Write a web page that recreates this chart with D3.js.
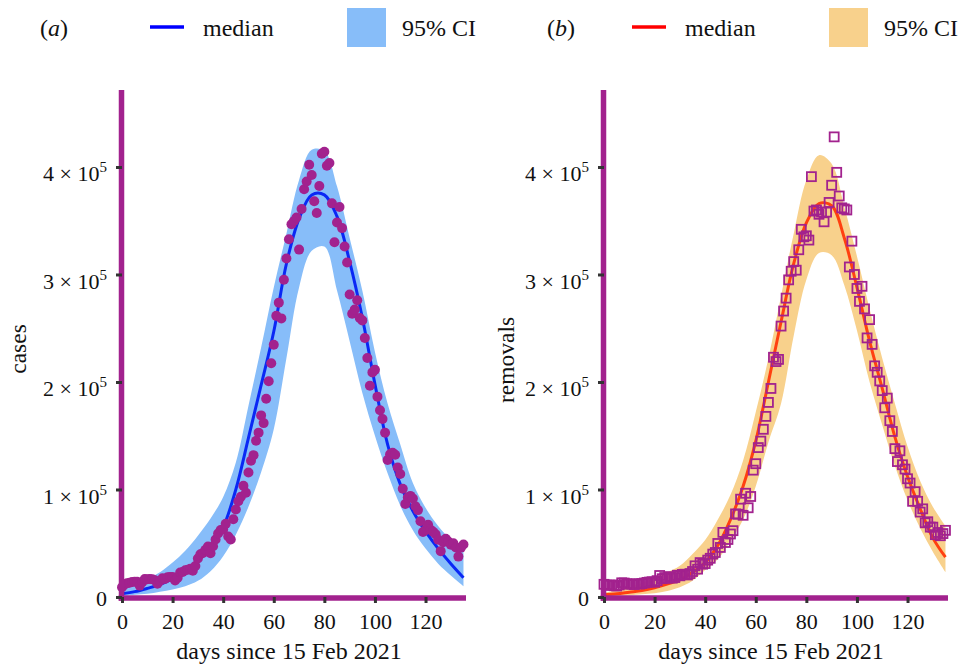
<!DOCTYPE html>
<html>
<head>
<meta charset="utf-8">
<script src="https://cdn.jsdelivr.net/npm/d3@7"></script>
<style>
  body { margin: 0; background: #fff; }
  text { font-family: "Liberation Serif", "DejaVu Serif", serif; fill: #111; }
</style>
</head>
<body>
<div id="chart"></div>
<script>
// days since 15 Feb 2021 (one point per day)
const days = d3.range(0, 136);

// daily cases (panel a)
const cases = [
  9121, 11610, 12881, 13193, 13993, 14264, 14199, 10584, 13742, 16738,
  16577, 16752, 16488, 15510, 12286, 14989, 17407, 16838, 18327, 18711,
  18599, 15388, 17921, 22854, 23285, 24882, 25320, 26291, 24492, 28903,
  35871, 39726, 40953, 43846, 46951, 40715, 47262, 53476, 59118, 62258,
  62714, 68020, 56211, 53480, 72330, 81466, 89129, 93249, 103558, 96982,
  115736, 126789, 131968, 145384, 152879, 168912, 161736, 184372, 200739, 217353,
  234692, 261500, 273810, 259170, 295041, 314835, 332730, 346786, 349691, 352991,
  323144, 360960, 379257, 386452, 401993, 392488, 368147, 357229, 382315, 412262,
  414188, 401078, 403738, 366161, 329942, 348421, 362727, 343144, 326098, 311170,
  281386, 263533, 267334, 276110, 259551, 257299, 240842, 222315, 196427, 208921,
  211298, 186364, 173790, 165553, 152734, 127510, 132788, 134154, 132364, 120529,
  114460, 100636, 86498, 92596, 94052, 91702, 84332, 80834, 70421, 60471,
  62224, 67208, 62480, 60753, 58419, 53256, 42640, 50848, 54069, 51667,
  48698, 50040, 46148, 37566, 45951, 48786
];

// daily removals, thousands (panel b)
const removals = [
  11.8, 11.0, 11.3, 10.9, 10.5, 10.2, 11.2, 13.2, 13.0, 12.4,
  11.9, 12.0, 11.6, 12.3, 12.0, 12.5, 13.0, 13.6, 13.9, 14.2,
  13.8, 15.2, 20.0, 17.0, 18.1, 17.5, 19.0, 17.5, 18.1, 20.2,
  19.7, 21.0, 21.2, 20.5, 21.8, 23.7, 29.0, 25.9, 32.0, 30.5,
  31.1, 34.3, 36.0, 39.9, 41.4, 49.8, 46.1, 60.1, 50.7, 53.5,
  58.6, 61.7, 77.3, 77.0, 91.0, 76.0, 96.5, 83.0, 93.5, 118,
  124, 139, 145, 156, 168, 181, 194, 223, 219, 221,
  252, 266, 278, 295, 303, 312, 304, 323, 342, 335,
  336, 332, 391, 359, 360, 356, 358, 349, 358, 367,
  383, 428, 395, 373, 362, 361, 360, 307, 331, 300,
  287, 275, 289, 268, 241, 258, 235, 215, 209, 201,
  192, 176, 185, 164, 154, 138, 126, 136, 123, 119,
  110, 106, 89, 98, 89, 79, 82, 69, 70, 65,
  65, 58, 60, 57, 59, 62
];

// fitted model: median and 95% CI, thousands, at these days
const fitDays = [0, 5, 10, 15, 20, 25, 30, 35, 40, 45, 50, 55, 60, 65, 70, 75, 80, 85, 90, 95, 100, 105, 110, 115, 120, 125, 130, 135];
const caseMedian = [3, 5, 8, 11.5, 17, 24, 34, 47, 65, 100, 148, 197, 247, 310, 352, 374, 374, 354, 312, 260, 198, 142, 105, 80, 61, 45, 31, 18];
const caseUpper = [8, 12, 17, 23, 32, 43, 57, 73, 93, 125, 178, 232, 288, 338, 388, 416, 415, 382, 334, 285, 228, 180, 142, 106, 83, 66, 53, 43];
const caseLower = [1, 2, 3, 5, 7, 10, 15, 24, 38, 58, 84, 116, 156, 222, 288, 322, 326, 285, 238, 190, 150, 115, 85, 62, 45, 31, 20, 10];
const removalMedian = [2, 3, 4.5, 6, 8.5, 12, 16, 23, 32, 48, 72, 103, 145, 200, 256, 310, 348, 366, 364, 334, 288, 238, 194, 149, 112, 82, 55, 37];
const removalUpper = [4, 6, 9, 13, 18, 23, 29, 40, 53, 72, 95, 127, 172, 222, 280, 338, 388, 411, 403, 363, 317, 268, 222, 180, 140, 108, 84, 66];
const removalLower = [0.5, 1, 1.5, 2.5, 3.5, 5.6, 9, 15, 25, 35, 52, 72, 103, 144, 180, 243, 295, 320, 318, 290, 248, 200, 160, 122, 90, 64, 42, 23];

const xTicks = [0, 20, 40, 60, 80, 100, 120];
const yTicks = [0, 1e5, 2e5, 3e5, 4e5];

const purple = "#a2228e";

const svg = d3.select("#chart").append("svg")
    .attr("width", 959)
    .attr("height", 667);

function drawPanel(cfg) {
    const x = d3.scaleLinear().domain([0, 136]).range([cfg.left, cfg.left + 344]);
    const y = d3.scaleLinear().domain([0, 471600]).range([597, 90]);
    const g = svg.append("g");

    const fit = fitDays.map((d, i) => ({
        day: d, med: cfg.median[i] * 1000, lo: cfg.lower[i] * 1000, hi: cfg.upper[i] * 1000
    }));

    // 95% CI band
    g.append("path")
        .datum(fit)
        .attr("fill", cfg.bandColor)
        .attr("d", d3.area().curve(d3.curveCatmullRom)
            .x(d => x(d.day)).y0(d => y(d.lo)).y1(d => y(d.hi)));

    // median line
    g.append("path")
        .datum(fit)
        .attr("fill", "none")
        .attr("stroke", cfg.lineColor)
        .attr("stroke-width", 3)
        .attr("d", d3.line().curve(d3.curveCatmullRom)
            .x(d => x(d.day)).y(d => y(d.med)));

    // observed data
    if (cfg.marker === "circle") {
        g.selectAll("circle.obs")
            .data(cfg.values)
            .enter().append("circle")
            .attr("class", "obs")
            .attr("cx", (d, i) => x(days[i]))
            .attr("cy", d => y(d * cfg.scale))
            .attr("r", 5)
            .attr("fill", purple);
    } else {
        g.selectAll("rect.obs")
            .data(cfg.values)
            .enter().append("rect")
            .attr("class", "obs")
            .attr("x", (d, i) => x(days[i]) - 4.5)
            .attr("y", d => y(d * cfg.scale) - 4.5)
            .attr("width", 9)
            .attr("height", 9)
            .attr("fill", "none")
            .attr("stroke", purple)
            .attr("stroke-width", 1.8);
    }

    // thick purple axis lines
    g.append("line")
        .attr("x1", x(0) - 0.5).attr("x2", x(0) - 0.5)
        .attr("y1", 90).attr("y2", y(0) + 3.8)
        .attr("stroke", purple).attr("stroke-width", 5.5);
    g.append("line")
        .attr("x1", x(0) - 3.3).attr("x2", x(136))
        .attr("y1", y(0) + 1).attr("y2", y(0) + 1)
        .attr("stroke", purple).attr("stroke-width", 5.5);

    // x axis
    const xa = g.append("g")
        .attr("transform", `translate(0,${y(0)})`)
        .call(d3.axisBottom(x).tickValues(xTicks).tickSize(6).tickSizeOuter(0).tickPadding(10));
    xa.select(".domain").remove();
    xa.selectAll(".tick line").attr("stroke", "#333").attr("stroke-width", 3);
    xa.selectAll(".tick text").attr("font-size", 22).attr("font-family", "Liberation Serif").attr("fill", "#111");

    // y axis with 4 × 10^5 style labels
    const ya = g.append("g")
        .attr("transform", `translate(${x(0)},0)`)
        .call(d3.axisLeft(y).tickValues(yTicks).tickSize(6).tickSizeOuter(0).tickPadding(9).tickFormat(""));
    ya.select(".domain").remove();
    ya.selectAll(".tick line").attr("stroke", "#333").attr("stroke-width", 3);
    ya.selectAll(".tick text").each(function(d) {
        const t = d3.select(this)
            .attr("font-size", 22)
            .attr("font-family", "Liberation Serif")
            .attr("fill", "#111")
            .attr("dy", null);
        if (d === 0) {
            t.attr("y", 8).text("0");
        } else {
            t.attr("y", 14);
            t.append("tspan").text(`${d / 1e5} × 10`);
            t.append("tspan").attr("font-size", 15).attr("dy", -9).text("5");
        }
    });

    // axis titles
    g.append("text")
        .attr("x", x(0) + 167).attr("y", 659)
        .attr("text-anchor", "middle")
        .attr("font-size", 24)
        .text("days since 15 Feb 2021");
    g.append("text")
        .attr("transform", `translate(${cfg.yLabelX},${cfg.yLabelY}) rotate(-90)`)
        .attr("text-anchor", "middle")
        .attr("font-size", 23.5)
        .text(cfg.yLabel);

    // legend
    const lg = svg.append("g");
    const tag = lg.append("text").attr("x", cfg.tagX).attr("y", 36).attr("font-size", 24);
    tag.append("tspan").text("(");
    tag.append("tspan").attr("font-style", "italic").text(cfg.tag);
    tag.append("tspan").text(")");
    lg.append("line")
        .attr("x1", cfg.legX).attr("x2", cfg.legX + 34)
        .attr("y1", 27).attr("y2", 27)
        .attr("stroke", cfg.legendLine).attr("stroke-width", 3.5);
    lg.append("text").attr("x", cfg.legX + 53).attr("y", 36).attr("font-size", 24).text("median");
    lg.append("rect")
        .attr("x", cfg.legX + 197).attr("y", 8)
        .attr("width", 39).attr("height", 39)
        .attr("fill", cfg.bandColor);
    lg.append("text").attr("x", cfg.legX + 252).attr("y", 36).attr("font-size", 24).text("95% CI");
}

drawPanel({
    left: 122, values: cases, scale: 1, marker: "circle",
    median: caseMedian, upper: caseUpper, lower: caseLower,
    bandColor: "#87bdf9", lineColor: "#0a28f5", legendLine: "#0000ff",
    yLabel: "cases", yLabelX: 26, yLabelY: 349,
    tag: "a", tagX: 40, legX: 150
});

drawPanel({
    left: 604, values: removals, scale: 1000, marker: "square",
    median: removalMedian, upper: removalUpper, lower: removalLower,
    bandColor: "#f8d18c", lineColor: "#ff4010", legendLine: "#ff0000",
    yLabel: "removals", yLabelX: 514, yLabelY: 360,
    tag: "b", tagX: 547, legX: 632
});
</script>
</body>
</html>
